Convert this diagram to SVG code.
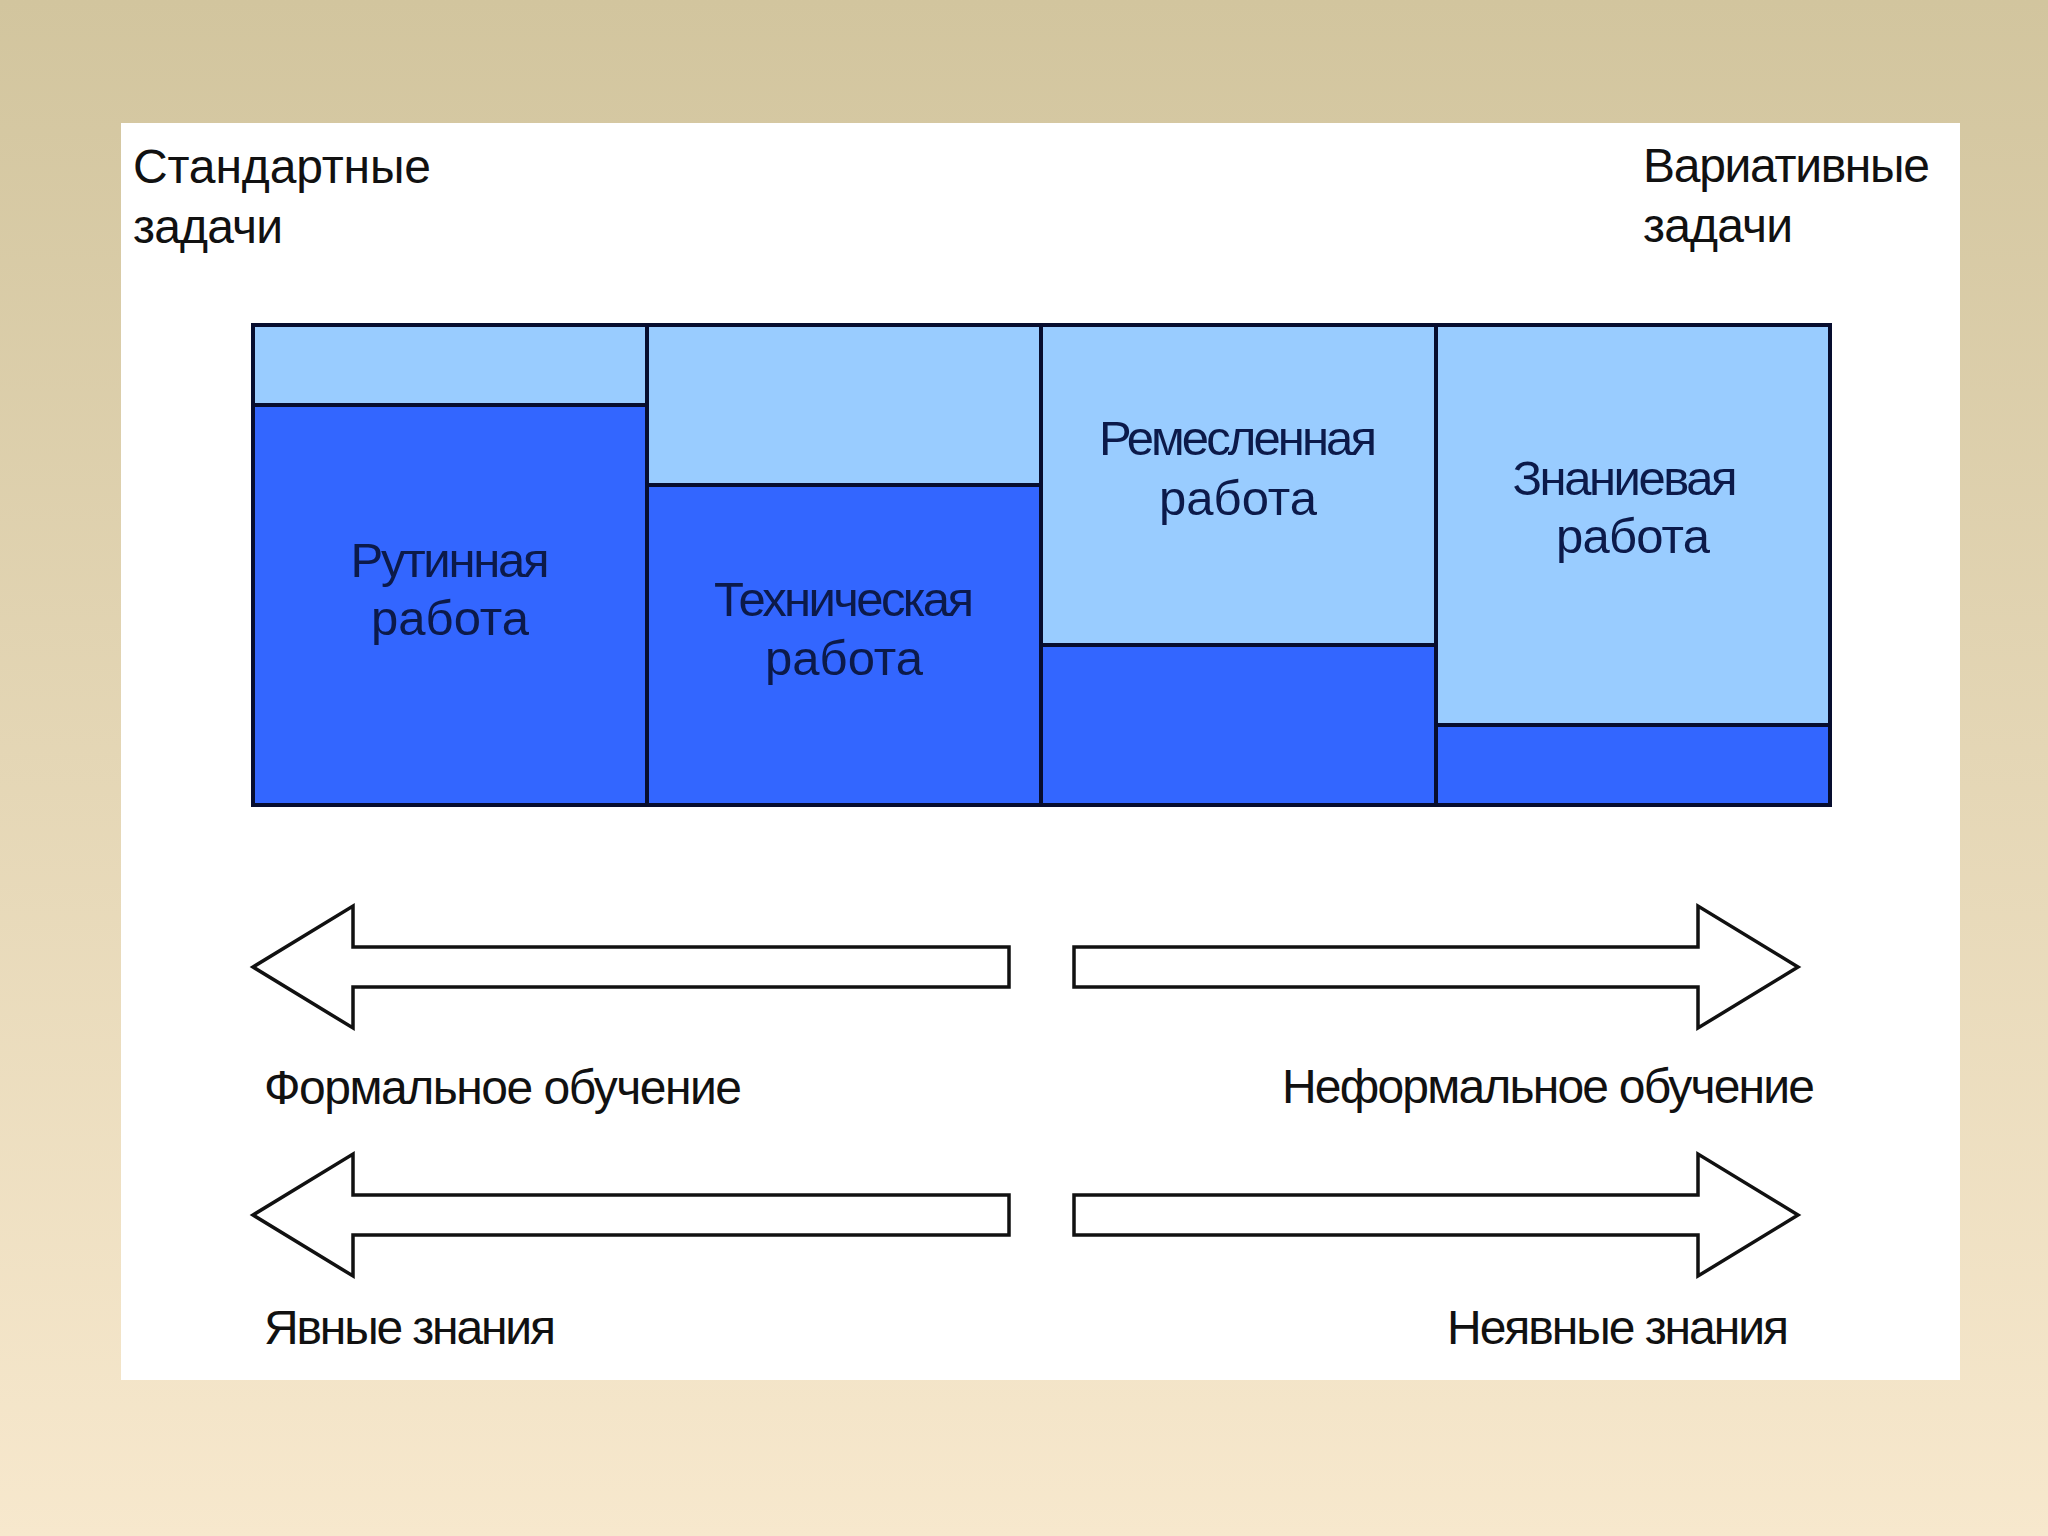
<svg xmlns="http://www.w3.org/2000/svg" width="2048" height="1536" viewBox="0 0 2048 1536">
<defs>
<linearGradient id="bg" x1="0" y1="0" x2="0" y2="1">
<stop offset="0" stop-color="#d2c59e"/>
<stop offset="1" stop-color="#f7e8cd"/>
</linearGradient>
</defs>
<style>
.t{font-family:"Liberation Sans Narrow","Liberation Sans",Arial,sans-serif;font-size:48px;fill:#111111}
.lbl{font-family:"Liberation Sans Narrow","Liberation Sans",Arial,sans-serif;font-size:49px;fill:#0c1a4a;text-anchor:middle}
.lt{fill:#99ccff;stroke:#070d2e;stroke-width:4}
.dk{fill:#3366ff;stroke:#070d2e;stroke-width:4}
.arr{fill:#ffffff;stroke:#111111;stroke-width:3.5;stroke-linejoin:miter}
</style>
<rect x="0" y="0" width="2048" height="1536" fill="url(#bg)"/>
<rect x="121" y="123" width="1839" height="1257" fill="#ffffff"/>

<g id="label-standard">
<text class="t" x="133" y="183" textLength="298" lengthAdjust="spacing">Стандартные</text>
<text class="t" x="133" y="243" textLength="150" lengthAdjust="spacing">задачи</text>
</g>
<g id="label-variative">
<text class="t" x="1643" y="182" textLength="287" lengthAdjust="spacing">Вариативные</text>
<text class="t" x="1643" y="242" textLength="150" lengthAdjust="spacing">задачи</text>
</g>

<g id="routine">
<rect class="lt" x="253" y="325" width="394" height="80"/>
<rect class="dk" x="253" y="405" width="394" height="400"/>
<text class="lbl" x="450" y="577" textLength="199" lengthAdjust="spacing">Рутинная</text>
<text class="lbl" x="450" y="635" textLength="158" lengthAdjust="spacing">работа</text>
</g>
<g id="technical">
<rect class="lt" x="647" y="325" width="394" height="160"/>
<rect class="dk" x="647" y="485" width="394" height="320"/>
<text class="lbl" x="844" y="616" textLength="260" lengthAdjust="spacing">Техническая</text>
<text class="lbl" x="844" y="675" textLength="158" lengthAdjust="spacing">работа</text>
</g>
<g id="craft">
<rect class="lt" x="1041" y="325" width="395" height="320"/>
<rect class="dk" x="1041" y="645" width="395" height="160"/>
<text class="lbl" x="1238" y="455" textLength="278" lengthAdjust="spacing">Ремесленная</text>
<text class="lbl" x="1238" y="515" textLength="158" lengthAdjust="spacing">работа</text>
</g>
<g id="knowledge">
<rect class="lt" x="1436" y="325" width="394" height="400"/>
<rect class="dk" x="1436" y="725" width="394" height="80"/>
<text class="lbl" x="1625" y="495" textLength="225" lengthAdjust="spacing">Знаниевая</text>
<text class="lbl" x="1633" y="553" textLength="154" lengthAdjust="spacing">работа</text>
</g>
<rect x="253" y="325" width="1577" height="480" fill="none" stroke="#070d2e" stroke-width="4"/>

<g id="connectors">
<polygon class="arr" points="253,967 353,906 353,947 1009,947 1009,987 353,987 353,1028"/>
<polygon class="arr" points="1074,947 1698,947 1698,906 1798,967 1698,1028 1698,987 1074,987"/>
<polygon class="arr" points="253,1215 353,1154 353,1195 1009,1195 1009,1235 353,1235 353,1276"/>
<polygon class="arr" points="1074,1195 1698,1195 1698,1154 1798,1215 1698,1276 1698,1235 1074,1235"/>
</g>

<g id="label-formal">
<text class="t" x="264" y="1104" textLength="478" lengthAdjust="spacing">Формальное обучение</text>
</g>
<g id="label-informal">
<text class="t" x="1282" y="1103" textLength="533" lengthAdjust="spacing">Неформальное обучение</text>
</g>
<g id="label-explicit">
<text class="t" x="264" y="1344" textLength="292" lengthAdjust="spacing">Явные знания</text>
</g>
<g id="label-tacit">
<text class="t" x="1447" y="1344" textLength="342" lengthAdjust="spacing">Неявные знания</text>
</g>
</svg>
